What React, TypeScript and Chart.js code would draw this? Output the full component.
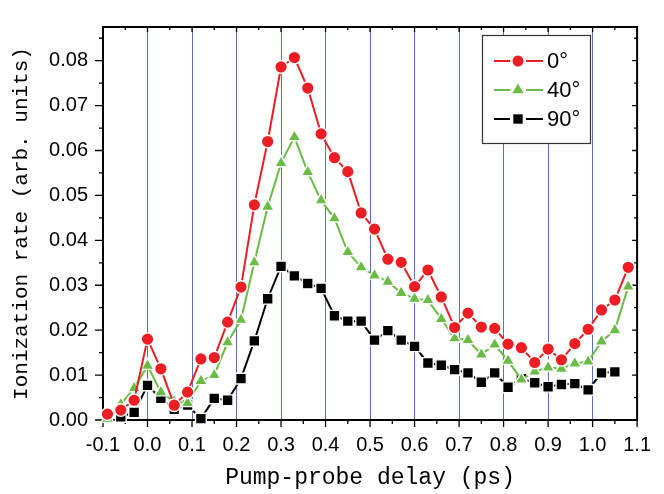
import React, { useEffect, useRef } from 'react';
import { Chart, registerables } from 'chart.js';

Chart.register(...registerables);

// Pump-probe delay (ps) for the 0° and 40° series
const delays = [
  -0.09, -0.06, -0.03, 0.0, 0.03, 0.06, 0.09, 0.12, 0.15, 0.18,
  0.21, 0.24, 0.27, 0.3, 0.33, 0.36, 0.39, 0.42, 0.45, 0.48,
  0.51, 0.54, 0.57, 0.6, 0.63, 0.66, 0.69, 0.72, 0.75, 0.78,
  0.81, 0.84, 0.87, 0.9, 0.93, 0.96, 0.99, 1.02, 1.05, 1.08,
];

// Pump-probe delay (ps) for the 90° series
const delays90 = [
  -0.06, -0.03, 0.0, 0.03, 0.06, 0.09, 0.12, 0.15, 0.18,
  0.21, 0.24, 0.27, 0.3, 0.33, 0.36, 0.39, 0.42, 0.45, 0.48,
  0.51, 0.54, 0.57, 0.6, 0.63, 0.66, 0.69, 0.72, 0.75, 0.78,
  0.81, 0.84, 0.87, 0.9, 0.93, 0.96, 0.99, 1.02, 1.05,
];

const rate0 = [
  0.0013, 0.0022, 0.0044, 0.018, 0.0114, 0.0033, 0.0062, 0.0136, 0.0139, 0.0218,
  0.0296, 0.0479, 0.062, 0.0786, 0.0807, 0.0739, 0.0637, 0.0584, 0.0553, 0.0461,
  0.0425, 0.0358, 0.0351, 0.0297, 0.0334, 0.0274, 0.0206, 0.0238, 0.0207, 0.0204,
  0.0169, 0.0161, 0.0128, 0.0158, 0.0134, 0.017, 0.0202, 0.0245, 0.0267, 0.034,
];

const rate40 = [
  0.0003, 0.0035, 0.0071, 0.0121, 0.0062, 0.0041, 0.0038, 0.0087, 0.01, 0.0173,
  0.0223, 0.0351, 0.0475, 0.0572, 0.063, 0.0552, 0.0489, 0.0449, 0.0374, 0.034,
  0.0322, 0.0308, 0.0283, 0.027, 0.0267, 0.0225, 0.0182, 0.0178, 0.0146, 0.0168,
  0.0132, 0.009, 0.0108, 0.0117, 0.0114, 0.0126, 0.013, 0.0175, 0.02, 0.0297,
];

const rate90 = [
  0.0007, 0.0017, 0.0077, 0.0048, 0.0024, 0.0033, 0.0003, 0.0048, 0.0044,
  0.0092, 0.0176, 0.027, 0.0342, 0.0321, 0.0304, 0.0293, 0.0232, 0.022, 0.022,
  0.0178, 0.0199, 0.0178, 0.0164, 0.0127, 0.0122, 0.0112, 0.0105, 0.0084, 0.0105,
  0.0073, 0.0092, 0.0083, 0.0074, 0.0079, 0.0081, 0.0067, 0.0105, 0.0107,
];

const seriesLabels = ['0°', '40°', '90°'];
const xTitle = 'Pump-probe delay (ps)';
const yTitle = 'Ionization rate (arb. units)';

const RED = 'rgb(236,30,36)';
const GREEN = 'rgb(106,188,70)';
const BLACK = 'rgb(0,0,0)';
const GRID_BLUE = 'rgb(88,114,192)';

const TICK_FONT = { family: '"Liberation Sans", Arial, sans-serif', size: 20 };
const TITLE_FAMILY = '"Liberation Mono", "DejaVu Sans Mono", monospace';

function toPoints(xs: number[], ys: number[]) {
  return xs.map((x, i) => ({ x, y: ys[i] }));
}

function drawMarker(ctx: CanvasRenderingContext2D, style: string, cx: number, cy: number, color: string) {
  ctx.save();
  ctx.fillStyle = color;
  ctx.beginPath();
  if (style === 'circle') {
    ctx.arc(cx, cy, 5.5, 0, Math.PI * 2);
  } else if (style === 'triangle') {
    const r = 6.6;
    ctx.moveTo(cx, cy - r);
    ctx.lineTo(cx + r * Math.sin((2 * Math.PI) / 3), cy - r * Math.cos((2 * Math.PI) / 3));
    ctx.lineTo(cx + r * Math.sin((4 * Math.PI) / 3), cy - r * Math.cos((4 * Math.PI) / 3));
    ctx.closePath();
  } else {
    ctx.rect(cx - 4.7, cy - 4.7, 9.4, 9.4);
  }
  ctx.fill();
  ctx.restore();
}

const framePlugin = {
  id: 'frameTicks',
  beforeDatasetsDraw(chart: any) {
    const { ctx, chartArea: a, scales } = chart;
    const x = scales.x;
    const y = scales.y;
    ctx.save();
    ctx.strokeStyle = '#000';
    ctx.lineWidth = 2;
    ctx.beginPath();
    ctx.moveTo(a.left - 1, a.top);
    ctx.lineTo(a.right, a.top);
    ctx.lineTo(a.right, a.bottom + 1);
    ctx.stroke();

    ctx.lineWidth = 1.3;
    ctx.beginPath();
    // bottom (outward) and top (inward) ticks every 0.05 ps
    for (let k = 0; k <= 24; k++) {
      const v = -0.1 + k * 0.05;
      const px = x.getPixelForValue(v);
      const major = k % 2 === 0;
      ctx.moveTo(px, a.bottom);
      ctx.lineTo(px, a.bottom + (major ? 7 : 4));
      ctx.moveTo(px, a.top);
      ctx.lineTo(px, a.top + (major ? 5 : 3));
    }
    // left (outward) and right (inward) ticks every 0.005
    for (let k = 0; k <= 17; k++) {
      const v = k * 0.005;
      const py = y.getPixelForValue(v);
      const major = k % 2 === 0;
      ctx.moveTo(a.left, py);
      ctx.lineTo(a.left - (major ? 8 : 4), py);
      ctx.moveTo(a.right, py);
      ctx.lineTo(a.right - (major ? 5 : 3), py);
    }
    ctx.stroke();
    ctx.restore();
  },
  afterDraw(chart: any) {
    const { ctx } = chart;
    const bx = 482;
    const by = 35;
    const bw = 108;
    const bh = 108;
    ctx.save();
    ctx.fillStyle = '#fff';
    ctx.fillRect(bx, by, bw, bh);
    ctx.strokeStyle = '#333';
    ctx.lineWidth = 1.2;
    ctx.strokeRect(bx + 0.5, by + 0.5, bw, bh);
    chart.data.datasets.forEach((ds: any, i: number) => {
      const cy = by + 26 + i * 29;
      ctx.strokeStyle = ds.borderColor;
      ctx.lineWidth = 2;
      ctx.beginPath();
      ctx.moveTo(494, cy);
      ctx.lineTo(510, cy);
      ctx.moveTo(526, cy);
      ctx.lineTo(543, cy);
      ctx.stroke();
      drawMarker(ctx, ds.pointStyle, 518, cy, ds.borderColor);
      ctx.fillStyle = '#000';
      ctx.font = '22px "Liberation Sans", Arial, sans-serif';
      ctx.textBaseline = 'middle';
      ctx.textAlign = 'left';
      ctx.fillText(ds.label, 547, cy + 1);
    });
    ctx.restore();
  },
};

export default function App() {
  const canvasRef = useRef<HTMLCanvasElement | null>(null);

  useEffect(() => {
    const canvas = canvasRef.current;
    if (!canvas) return;
    const chart = new Chart(canvas, {
      type: 'line',
      data: {
        datasets: [
          {
            label: seriesLabels[0],
            data: toPoints(delays, rate0),
            borderColor: RED,
            backgroundColor: RED,
            borderWidth: 2,
            pointStyle: 'circle',
            pointRadius: 6.3,
            pointBorderColor: '#fff',
            pointBorderWidth: 1.4,
            pointBackgroundColor: RED,
            clip: false,
          } as any,
          {
            label: seriesLabels[1],
            data: toPoints(delays, rate40),
            borderColor: GREEN,
            backgroundColor: GREEN,
            borderWidth: 2,
            pointStyle: 'triangle',
            pointRadius: 7.4,
            pointBorderColor: '#fff',
            pointBorderWidth: 1.4,
            pointBackgroundColor: GREEN,
            clip: false,
          } as any,
          {
            label: seriesLabels[2],
            data: toPoints(delays90, rate90),
            borderColor: BLACK,
            backgroundColor: BLACK,
            borderWidth: 2,
            pointStyle: 'rect',
            pointRadius: 7.6,
            pointBorderColor: '#fff',
            pointBorderWidth: 1.4,
            pointBackgroundColor: BLACK,
            clip: false,
          } as any,
        ],
      },
      options: {
        responsive: false,
        animation: false,
        devicePixelRatio: 1,
        layout: { padding: { top: 14, right: 15, left: 0, bottom: 0 } },
        plugins: {
          legend: { display: false },
          tooltip: { enabled: false },
        },
        scales: {
          x: {
            type: 'linear',
            min: -0.1,
            max: 1.1,
            afterFit: (scale: any) => {
              scale.height = 74;
            },
            ticks: {
              stepSize: 0.1,
              includeBounds: false,
              color: '#000',
              font: TICK_FONT,
              padding: 13,
              maxRotation: 0,
              autoSkip: false,
              callback: (v: any) => Number(v).toFixed(1),
            },
            grid: {
              display: true,
              drawTicks: false,
              lineWidth: 1,
              color: (c: any) => {
                const v = c.tick ? c.tick.value : NaN;
                return v > -0.05 && v < 1.05 ? GRID_BLUE : 'rgba(0,0,0,0)';
              },
            },
            border: { display: true, color: '#000', width: 2 },
            title: {
              display: true,
              text: xTitle,
              color: '#000',
              font: { family: TITLE_FAMILY, size: 23 },
              padding: { top: 0, bottom: 2 },
            },
          },
          y: {
            type: 'linear',
            min: 0,
            max: 0.0875,
            afterFit: (scale: any) => {
              scale.width = 103;
            },
            ticks: {
              stepSize: 0.01,
              includeBounds: false,
              color: '#000',
              font: TICK_FONT,
              padding: 15,
              callback: (v: any) => Number(v).toFixed(2),
            },
            grid: { display: false, drawTicks: false },
            border: { display: true, color: '#000', width: 2 },
            title: {
              display: true,
              text: yTitle,
              color: '#000',
              font: { family: TITLE_FAMILY, size: 21 },
              padding: { top: 9, bottom: 0 },
            },
          },
        },
      } as any,
      plugins: [framePlugin],
    });
    return () => chart.destroy();
  }, []);

  return (
    <div style={{ position: 'absolute', left: 0, top: 0, width: 664, height: 494, background: '#fff' }}>
      <canvas ref={canvasRef} width={664} height={494} style={{ display: 'block', width: 664, height: 494 }} />
    </div>
  );
}
